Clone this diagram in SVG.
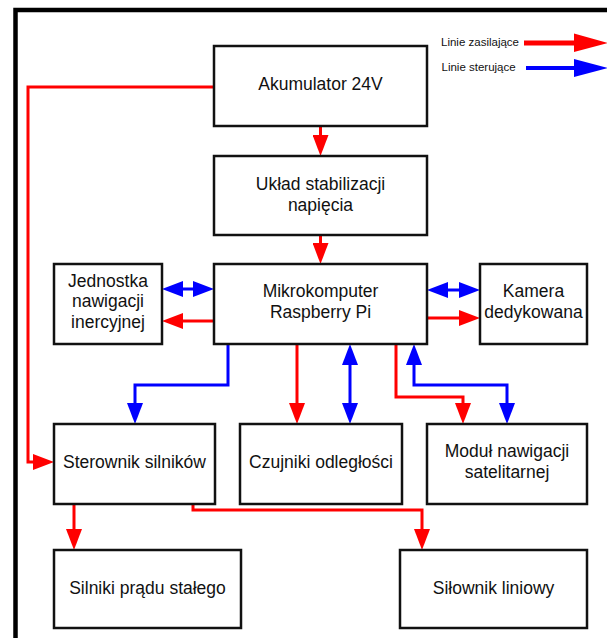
<svg xmlns="http://www.w3.org/2000/svg" width="607" height="638" viewBox="0 0 607 638">
<defs>
<style>
.box{fill:#fff;stroke:#111;stroke-width:2.5}
.t{font-family:"Liberation Sans",Arial,sans-serif;font-size:17.5px;fill:#111;text-anchor:middle}
.lg{font-family:"Liberation Sans",Arial,sans-serif;font-size:11.5px;fill:#111}
.r{fill:none;stroke:#ff0000;stroke-width:3}
.b{fill:none;stroke:#0000ff;stroke-width:3}
</style>
<marker id="hr" markerUnits="userSpaceOnUse" markerWidth="22" markerHeight="16" refX="1" refY="8" orient="auto-start-reverse" viewBox="0 0 22 16">
<path d="M0,0 L21,8 L0,16 Z" fill="#ff0000"/>
</marker>
<marker id="hb" markerUnits="userSpaceOnUse" markerWidth="22" markerHeight="16" refX="1" refY="8" orient="auto-start-reverse" viewBox="0 0 22 16">
<path d="M0,0 L21,8 L0,16 Z" fill="#0000ff"/>
</marker>
</defs>
<rect width="607" height="638" fill="#fff"/>
<rect id="frame" x="15.5" y="10" width="700" height="700" fill="none" stroke="#000" stroke-width="4.5"/>

<g id="legend">
<text class="lg" x="441" y="46">Linie zasilające</text>
<line x1="524" y1="43" x2="575" y2="43" stroke="#ff0000" stroke-width="5"/>
<polygon points="574,33.5 608,43 574,52" fill="#ff0000"/>
<text class="lg" x="441.5" y="71">Linie sterujące</text>
<line x1="526" y1="68" x2="575" y2="68" stroke="#0000ff" stroke-width="4"/>
<polygon points="574,59 608,68 574,77" fill="#0000ff"/>
</g>

<g id="connectors">
<path class="r" d="M320.5,127 V136" marker-end="url(#hr)"/>
<path class="r" d="M320.5,236 V244" marker-end="url(#hr)"/>
<path class="b" d="M182,289 H194" marker-start="url(#hb)" marker-end="url(#hb)"/>
<path class="r" d="M214,321 H182" marker-end="url(#hr)"/>
<path class="b" d="M447,290 H460" marker-start="url(#hb)" marker-end="url(#hb)"/>
<path class="r" d="M427,318 H460" marker-end="url(#hr)"/>
<path class="b" d="M228,345 V385 H135 V404" marker-end="url(#hb)"/>
<path class="r" d="M297,345 V404" marker-end="url(#hr)"/>
<path class="b" d="M350,364 V404" marker-start="url(#hb)" marker-end="url(#hb)"/>
<path class="r" d="M396,345 V397 H463 V404" marker-end="url(#hr)"/>
<path class="b" d="M414,364 V385 H507 V404" marker-start="url(#hb)" marker-end="url(#hb)"/>
<path class="r" d="M214,87 H28 V462 H34" marker-end="url(#hr)"/>
<path class="r" d="M74,505 V530" marker-end="url(#hr)"/>
<path class="r" d="M193,505 V510 H422 V530" marker-end="url(#hr)"/>
</g>

<g id="akumulator">
<rect class="box" x="214" y="46" width="213" height="80"/>
<text class="t" x="320.5" y="90">Akumulator 24V</text>
</g>
<g id="uklad">
<rect class="box" x="214" y="156" width="213" height="79"/>
<text class="t" x="320.5" y="190">Układ stabilizacji</text>
<text class="t" x="320.5" y="210.5">napięcia</text>
</g>
<g id="mikrokomputer">
<rect class="box" x="214" y="264" width="213" height="80"/>
<text class="t" x="320.5" y="296.5">Mikrokomputer</text>
<text class="t" x="320.5" y="317.5">Raspberry Pi</text>
</g>
<g id="jednostka">
<rect class="box" x="54" y="264" width="108" height="80"/>
<text class="t" x="108" y="286.5">Jednostka</text>
<text class="t" x="108" y="307">nawigacji</text>
<text class="t" x="108" y="327.5">inercyjnej</text>
</g>
<g id="kamera">
<rect class="box" x="480" y="264" width="107" height="80"/>
<text class="t" x="533.5" y="297">Kamera</text>
<text class="t" x="533.5" y="317.5">dedykowana</text>
</g>
<g id="sterownik">
<rect class="box" x="54" y="424" width="161" height="80"/>
<text class="t" x="134.5" y="467.5">Sterownik silników</text>
</g>
<g id="czujniki">
<rect class="box" x="240" y="424" width="162" height="80"/>
<text class="t" x="321" y="467.5">Czujniki odległości</text>
</g>
<g id="modul">
<rect class="box" x="427" y="424" width="160" height="80"/>
<text class="t" x="507" y="456.5">Moduł nawigacji</text>
<text class="t" x="507" y="477.5">satelitarnej</text>
</g>
<g id="silniki">
<rect class="box" x="54" y="550" width="187" height="78"/>
<text class="t" x="147.5" y="593.5">Silniki prądu stałego</text>
</g>
<g id="silownik">
<rect class="box" x="400" y="550" width="187" height="78"/>
<text class="t" x="493.5" y="593.5">Siłownik liniowy</text>
</g>
</svg>
